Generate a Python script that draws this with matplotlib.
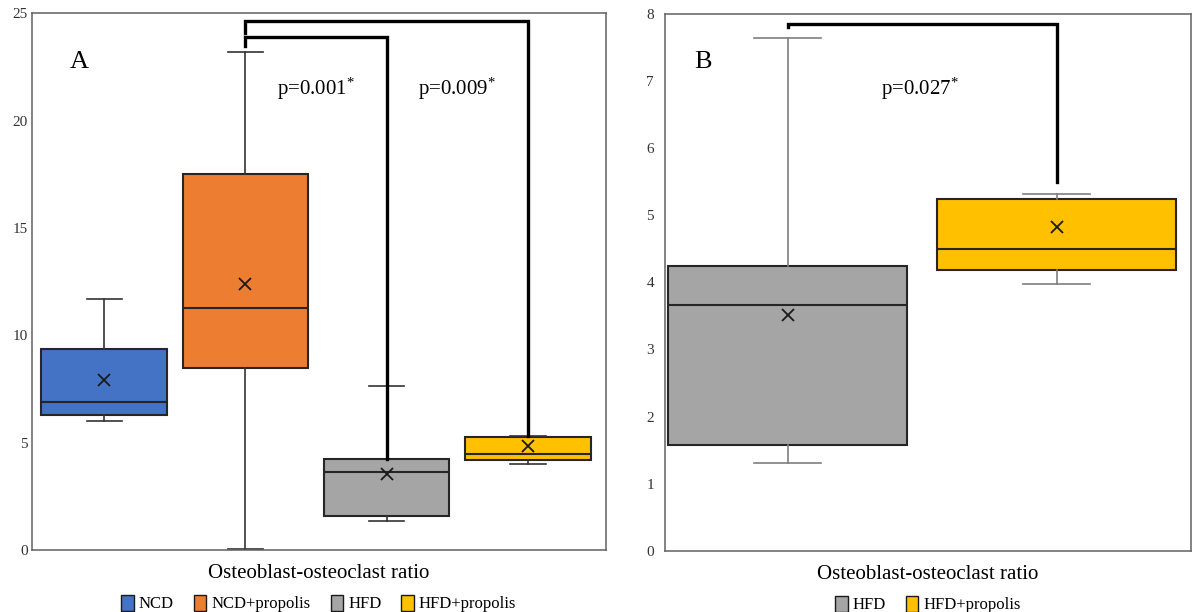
import matplotlib
matplotlib.use('Agg')
import matplotlib.pyplot as plt
from matplotlib.patches import Patch

plt.rcParams['font.family'] = ['Liberation Serif', 'DejaVu Serif']
plt.rcParams['mathtext.default'] = 'regular'

# panel A
groups_a = ['NCD', 'NCD+propolis', 'HFD', 'HFD+propolis']
whislo_a = [6.0, 0.05, 1.35, 4.0]
q1_a = [6.3, 8.5, 1.6, 4.2]
med_a = [6.9, 11.3, 3.65, 4.5]
q3_a = [9.35, 17.5, 4.25, 5.25]
whishi_a = [11.7, 23.2, 7.65, 5.3]
mean_a = [7.95, 12.4, 3.55, 4.85]
pvals_a = ['p=0.001', 'p=0.009']

# panel B
groups_b = ['HFD', 'HFD+propolis']
whislo_b = [1.31, 3.97]
q1_b = [1.58, 4.18]
med_b = [3.66, 4.49]
q3_b = [4.24, 5.24]
whishi_b = [7.64, 5.31]
mean_b = [3.52, 4.82]
pvals_b = ['p=0.027']

colors = {'NCD': '#4472C4', 'NCD+propolis': '#ED7D31',
          'HFD': '#A5A5A5', 'HFD+propolis': '#FFC000'}


def make_stats(groups, lo, q1, med, q3, hi, mean):
    return [dict(label=g, whislo=lo[i], q1=q1[i], med=med[i], q3=q3[i],
                 whishi=hi[i], mean=mean[i], fliers=[])
            for i, g in enumerate(groups)]


def draw_panel(ax, groups, stats, wcol):
    pos = list(range(1, len(groups) + 1))
    bp = ax.bxp(stats, positions=pos, widths=0.89, capwidths=0.25,
                patch_artist=True, showmeans=True,
                boxprops=dict(edgecolor='#262626', linewidth=1.5),
                medianprops=dict(color='#262626', linewidth=1.5),
                whiskerprops=dict(color=wcol, linewidth=1.2),
                capprops=dict(color=wcol, linewidth=1.2),
                meanprops=dict(marker='x', markeredgecolor='#1a1a1a',
                               markersize=9, markeredgewidth=1.3))
    for patch, g in zip(bp['boxes'], groups):
        patch.set_facecolor(colors[g])
    ax.set_xticks([])
    ax.tick_params(axis='y', length=0, labelsize=11, labelcolor='#333333')
    for s in ax.spines.values():
        s.set_color('#606060')
        s.set_linewidth(1.1)
    ax.set_xlabel('Osteoblast-osteoclast ratio', fontsize=15, labelpad=10)
    handles = [Patch(facecolor=colors[g], edgecolor='#1a1a1a', label=g) for g in groups]
    ax.legend(handles=handles, loc='upper center', bbox_to_anchor=(0.5, -0.08),
              ncol=len(groups), frameon=False, fontsize=12, handlelength=0.75,
              handleheight=1.1, handletextpad=0.3, columnspacing=1.2,
              borderaxespad=0, borderpad=0.1)


fig = plt.figure(figsize=(11.92, 6.12), dpi=100)

axa = fig.add_axes([0.027, 0.101, 0.481, 0.877])
draw_panel(axa, groups_a, make_stats(groups_a, whislo_a, q1_a, med_a, q3_a, whishi_a, mean_a), '#333333')
axa.set_xlim(0.49, 4.55)
axa.set_ylim(0, 25)
axa.set_yticks(range(0, 26, 5))
axa.tick_params(axis='y', pad=3)
axa.text(0.065, 0.93, 'A', transform=axa.transAxes, fontsize=19, va='top')

# significance brackets, panel A
bk = dict(color='black', linewidth=2.4, solid_joinstyle='miter')
axa.plot([2, 2, 4, 4], [24.1, 24.67, 24.67, whishi_a[3]], **bk)
axa.plot([2, 2, 3, 3], [23.5, 23.9, 23.9, q3_a[2]], **bk)
axa.text(2.5, 21.5, pvals_a[0] + '$^{*}$', ha='center', va='center', fontsize=15)
axa.text(3.5, 21.5, pvals_a[1] + '$^{*}$', ha='center', va='center', fontsize=15)

axb = fig.add_axes([0.558, 0.0997, 0.441, 0.878])
draw_panel(axb, groups_b, make_stats(groups_b, whislo_b, q1_b, med_b, q3_b, whishi_b, mean_b), '#7f7f7f')
axb.set_xlim(0.543, 2.5)
axb.set_ylim(0, 8)
axb.set_yticks(range(0, 9))
axb.tick_params(axis='y', pad=8)
axb.text(0.055, 0.93, 'B', transform=axb.transAxes, fontsize=19, va='top')
axb.plot([1, 1, 2, 2], [7.8, 7.85, 7.85, 5.49], **bk)
axb.text(1.49, 6.88, pvals_b[0] + '$^{*}$', ha='center', va='center', fontsize=15)

fig.savefig('out.png', dpi=100)
